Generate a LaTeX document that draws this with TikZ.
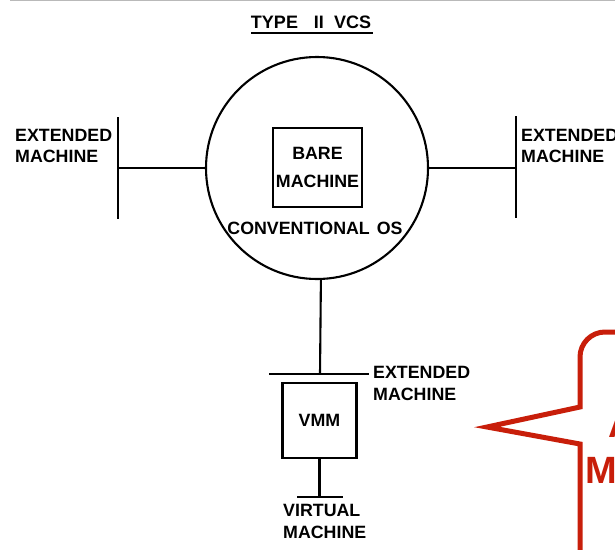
\documentclass[tikz,border=0pt]{standalone}
\usepackage{fontspec}
\setmainfont{Liberation Sans}
\newfontfamily\docfont{Liberation Sans Bold}
\newfontfamily\headfont{Liberation Sans Bold}
\definecolor{callred}{RGB}{200,30,10}
\begin{document}
\begin{tikzpicture}[x=1pt,y=-1pt,
  wire/.style={line width=2.1pt},
  bar/.style={line width=2.5pt},
  lbl/.style={font=\docfont\fontsize{17.8}{21.5}\selectfont, inner sep=0pt, align=left},
  blk/.style={draw, line width=2.1pt, inner sep=0pt, font=\docfont\fontsize{17.8}{28}\selectfont, align=center},
  callout/.style={draw=callred, line width=5pt, line join=miter},
  calltext/.style={font=\headfont\fontsize{38}{46}\selectfont, text=callred, inner sep=0pt}]
\useasboundingbox (0,0) rectangle (615,549);
\clip (0,0) rectangle (615,549);

% scan edge at the top of the page
\coordinate (edgeL) at (10,0.8);
\coordinate (edgeR) at (615,0.8);
\draw[gray!55, line width=1.3pt] (edgeL) -- (edgeR);

% heading
\node[font=\headfont\fontsize{18}{20}\selectfont, inner sep=0pt, anchor=base] (title) at (311,28)
  {TYPE\hspace{16pt}II\hspace{10pt}VCS};
\coordinate (ulL) at (251,33);
\coordinate (ulR) at (373,33);
\draw[line width=2.5pt] (ulL) -- (ulR);

% conventional OS around the bare machine
\node[circle, draw, wire, minimum size=222pt, inner sep=0pt] (os) at (317,168) {};
\node[blk, minimum width=89pt, minimum height=79pt] (bare) at (317.5,167.5) {BARE\\MACHINE};
\node[lbl] (conv) at (315,228.5) {CONVENTIONAL\hspace{7pt}OS};

% left extended machine
\coordinate (lbar) at (118,168);
\coordinate (lbarT) at (118,117);
\coordinate (lbarB) at (118,219);
\draw[bar] (lbarT) -- (lbarB);
\draw[wire] (os.west) -- (lbar);
\node[lbl, anchor=west] (extL) at (15,146) {EXTENDED\\MACHINE};

% right extended machine
\coordinate (rbar) at (516,168);
\coordinate (rbarT) at (516,116);
\coordinate (rbarB) at (516,218);
\draw[bar] (rbarT) -- (rbarB);
\draw[wire] (os.east) -- (rbar);
\node[lbl, anchor=west] (extR) at (521,146) {EXTENDED\\MACHINE};

% extended machine below the OS
\coordinate (mbar) at (320,374);
\coordinate (mbarL) at (269,374);
\coordinate (mbarR) at (369,374);
\draw[wire] (os.-88.5) -- (mbar);
\draw[bar] (mbarL) -- (mbarR);
\node[lbl, anchor=west] (extB) at (373,383.5) {EXTENDED\\MACHINE};

% virtual machine monitor
\node[blk, minimum width=74pt, minimum height=75pt] (vmm) at (319.5,420.5) {VMM};
\coordinate (vbar) at (319.5,497);
\coordinate (vbarL) at (297,497);
\coordinate (vbarR) at (343,497);
\draw[wire] (vmm.south) -- (vbar);
\draw[bar] (vbarL) -- (vbarR);
\node[lbl, anchor=west] (virt) at (283,521.5) {VIRTUAL\\MACHINE};

% speech bubble pointing at the VMM
\coordinate (tip) at (487,427);
\draw[callout] (640,332) -- (605,332) arc[start angle=-90, end angle=-180, radius=25]
  -- (580,407) -- (tip) -- (580,444) -- (580,560);
\node[calltext, anchor=base west] (cA) at (608,437) {A};
\node[calltext, anchor=base west] (cM) at (585,483) {M};
\end{tikzpicture}
\end{document}
